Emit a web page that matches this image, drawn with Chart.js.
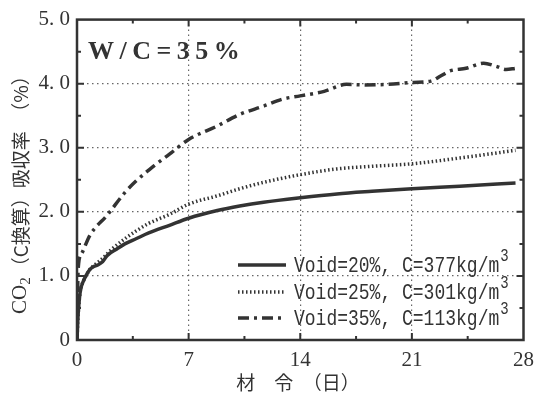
<!DOCTYPE html>
<html><head><meta charset="utf-8">
<script src="https://cdn.jsdelivr.net/npm/chart.js@4"></script>
<style>html,body{margin:0;padding:0;background:#fff}#wrap{width:542px;height:396px}</style>
</head><body><div id="wrap"><canvas id="c" width="542" height="396"></canvas></div>
<script>
// ---- text ----
const panelTitle = 'W/C=35%';
const xAxisTitle = '材　令　（日）';
const yAxisTitleMain = 'CO';
const yAxisTitleSub = '2';
const yAxisTitleRest = '（C換算）吸収率　（%）';
const yTickLabels = ['0', '1. 0', '2. 0', '3. 0', '4. 0', '5. 0'];
const xTickValues = [0, 7, 14, 21, 28];
const seriesLabels = ['Void=20%, C=377kg/m', 'Void=25%, C=301kg/m', 'Void=35%, C=113kg/m'];
const labelSup = '3';

// ---- data (age in days, CO2 uptake %) ----
const days20 = [0, 0.05, 0.1, 0.2, 0.4, 0.6, 0.8, 1.0, 1.3, 1.6, 1.9, 2.5, 3.0, 3.7, 4.5, 5.8, 7.0, 8.8, 10.2, 11.7, 14.0, 16.3, 18.5, 21.0, 24.0, 27.5];
const co2_20 = [0, 0.30, 0.50, 0.75, 0.92, 1.02, 1.10, 1.14, 1.17, 1.22, 1.32, 1.42, 1.50, 1.58, 1.67, 1.79, 1.90, 2.02, 2.09, 2.15, 2.22, 2.28, 2.32, 2.36, 2.40, 2.45];

const days25 = [0, 0.05, 0.1, 0.2, 0.4, 0.6, 0.8, 1.0, 1.5, 2.2, 3.0, 3.7, 4.5, 5.8, 7.0, 8.8, 10.2, 11.7, 14.0, 16.3, 18.5, 21.0, 24.0, 27.5];
const co2_25 = [0, 0.30, 0.50, 0.75, 0.92, 1.02, 1.10, 1.15, 1.25, 1.42, 1.58, 1.70, 1.82, 1.96, 2.12, 2.25, 2.36, 2.46, 2.58, 2.67, 2.71, 2.75, 2.84, 2.96];

const days35 = [0, 0.05, 0.1, 0.3, 0.8, 1.9, 3.0, 3.7, 5.0, 5.8, 7.0, 8.8, 10.2, 11.7, 12.9, 14.0, 15.5, 16.9, 18.0, 19.5, 21.1, 22.2, 22.8, 23.4, 24.4, 25.5, 26.3, 26.9, 27.5];
const co2_35 = [0, 0.90, 1.19, 1.35, 1.63, 1.95, 2.30, 2.48, 2.75, 2.90, 3.13, 3.34, 3.52, 3.65, 3.76, 3.81, 3.88, 3.99, 3.98, 3.99, 4.02, 4.04, 4.12, 4.20, 4.24, 4.32, 4.27, 4.22, 4.24];

const toPts = (xs, ys) => xs.map((x, i) => ({x: x, y: ys[i]}));

const INK = '#333333';
const monoFont = '"Liberation Mono", "DejaVu Sans Mono", monospace';
const serifFont = '"Liberation Serif", "DejaVu Serif", serif';
const cjkFont = '"Noto Sans CJK JP", "Noto Sans CJK SC", sans-serif';

const decorPlugin = {
  id: 'decor',
  afterDraw(chart) {
    const ctx = chart.ctx;
    const a = chart.chartArea;
    const xs = chart.scales.x, ys = chart.scales.y;
    ctx.save();
    // frame
    ctx.strokeStyle = INK;
    ctx.lineWidth = 2.5;
    ctx.setLineDash([]);
    ctx.strokeRect(a.left, a.top, a.right - a.left, a.bottom - a.top);
    // inward ticks (major + minor) on all four sides
    ctx.lineWidth = 2;
    for (let k = 1; k < 8; k++) {
      const v = k * 3.5;
      const len = (k % 2 === 0) ? 7 : 4;
      const px = xs.getPixelForValue(v);
      ctx.beginPath();
      ctx.moveTo(px, a.bottom); ctx.lineTo(px, a.bottom - len);
      ctx.moveTo(px, a.top); ctx.lineTo(px, a.top + len);
      ctx.stroke();
    }
    for (let k = 1; k < 10; k++) {
      const v = k * 0.5;
      const len = (k % 2 === 0) ? 7 : 4;
      const py = ys.getPixelForValue(v);
      ctx.beginPath();
      ctx.moveTo(a.left, py); ctx.lineTo(a.left + len, py);
      ctx.moveTo(a.right, py); ctx.lineTo(a.right - len, py);
      ctx.stroke();
    }
    // panel title
    ctx.fillStyle = INK;
    ctx.font = 'bold 26px ' + serifFont;
    ctx.textBaseline = 'middle';
    ctx.textAlign = 'left';
    let tx = 88;
    for (const ch of panelTitle) {
      ctx.fillText(ch, tx, 52);
      tx += ctx.measureText(ch).width + 5.5;
    }
    // x axis title
    ctx.font = '19px ' + cjkFont;
    ctx.textAlign = 'center';
    ctx.fillText(xAxisTitle, 298, 383);
    // y axis title (rotated)
    ctx.translate(20, 314);
    ctx.rotate(-Math.PI / 2);
    ctx.textAlign = 'left';
    ctx.textBaseline = 'middle';
    let p = 0;
    ctx.font = '21px ' + serifFont;
    ctx.fillText(yAxisTitleMain, p, 0);
    p += ctx.measureText(yAxisTitleMain).width;
    ctx.font = '15px ' + serifFont;
    ctx.fillText(yAxisTitleSub, p, 6);
    p += ctx.measureText(yAxisTitleSub).width + 1;
    ctx.font = '19px ' + cjkFont;
    ctx.fillText(yAxisTitleRest, p, 1);
    ctx.restore();
  },
  afterDatasetsDraw(chart) {
    // legend
    const ctx = chart.ctx;
    const rows = [265, 292, 318];
    ctx.save();
    chart.data.datasets.forEach((ds, i) => {
      const y = rows[i];
      ctx.strokeStyle = ds.borderColor;
      ctx.lineWidth = ds.borderWidth;
      ctx.setLineDash(ds.borderDash || []);
      ctx.beginPath();
      ctx.moveTo(238, y); ctx.lineTo(286, y);
      ctx.stroke();
      ctx.setLineDash([]);
      ctx.fillStyle = INK;
      ctx.textBaseline = 'middle';
      ctx.textAlign = 'left';
      ctx.save();
      ctx.translate(294, y + 1);
      ctx.scale(1, 1.25);
      ctx.font = '18px ' + monoFont;
      ctx.fillText(ds.label, 0, 0);
      const w = ctx.measureText(ds.label).width;
      ctx.font = '14px ' + monoFont;
      ctx.fillText(labelSup, w + 1, -8);
      ctx.restore();
    });
    ctx.restore();
  }
};

new Chart(document.getElementById('c'), {
  type: 'line',
  data: {
    datasets: [
      {label: seriesLabels[0], data: toPts(days20, co2_20), borderColor: INK, borderWidth: 3.5, borderDash: [], pointRadius: 0, cubicInterpolationMode: 'monotone', fill: false},
      {label: seriesLabels[1], data: toPts(days25, co2_25), borderColor: INK, borderWidth: 3.5, borderDash: [1.5, 2.5], pointRadius: 0, cubicInterpolationMode: 'monotone', fill: false},
      {label: seriesLabels[2], data: toPts(days35, co2_35), borderColor: INK, borderWidth: 3.5, borderDash: [11, 5, 3, 5], pointRadius: 0, cubicInterpolationMode: 'monotone', fill: false}
    ]
  },
  options: {
    responsive: false,
    animation: false,
    devicePixelRatio: 1,
    layout: {padding: {top: 18, right: 14, left: 0, bottom: 0}},
    plugins: {legend: {display: false}, tooltip: {enabled: false}, title: {display: false}},
    scales: {
      x: {
        type: 'linear', min: 0, max: 28,
        afterFit(s) { s.height = 56; },
        afterBuildTicks(s) { s.ticks = xTickValues.map(v => ({value: v})); },
        ticks: {color: INK, padding: 8, font: {family: serifFont, size: 21}, maxRotation: 0},
        grid: {drawTicks: false, lineWidth: 1.2,
          color: c => (c.tick && (c.tick.value === 0 || c.tick.value === 28)) ? 'rgba(0,0,0,0)' : '#666'},
        border: {display: false, dash: [1.5, 3.5]}
      },
      y: {
        type: 'linear', min: 0, max: 5,
        afterFit(s) { s.width = 77; },
        ticks: {stepSize: 1, color: INK, padding: 7, font: {family: serifFont, size: 21},
          callback: v => yTickLabels[Math.round(v)]},
        grid: {drawTicks: false, lineWidth: 1.2,
          color: c => (c.tick && (c.tick.value === 0 || c.tick.value === 5)) ? 'rgba(0,0,0,0)' : '#666'},
        border: {display: false, dash: [1.5, 3.5]}
      }
    }
  },
  plugins: [decorPlugin]
});
</script>
</body></html>
